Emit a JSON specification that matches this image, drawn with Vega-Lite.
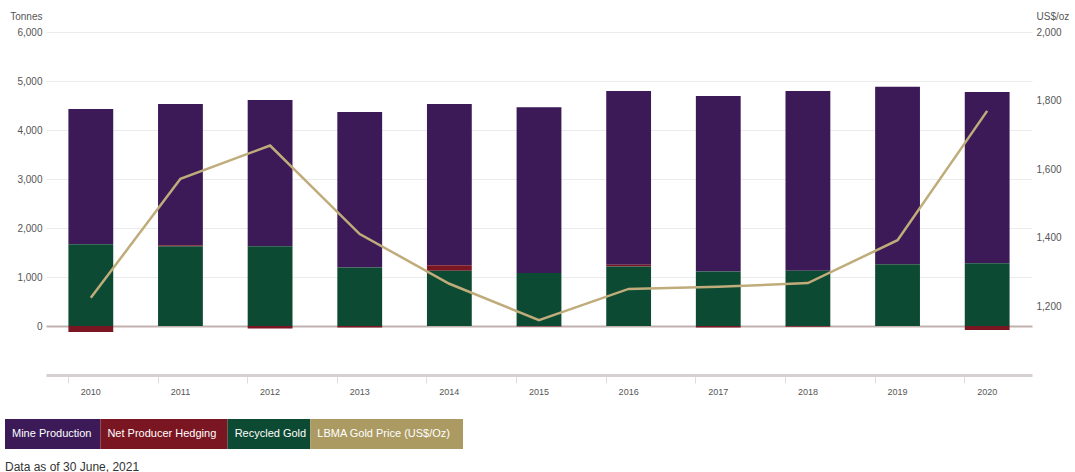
{
  "$schema": "https://vega.github.io/schema/vega-lite/v6.json",
  "padding": {"left": 5, "top": 11, "right": 0, "bottom": 0},
  "background": "white",
  "config": {"font": "Liberation Sans", "view": {"stroke": null}},
  "resolve": {"scale": {"color": "independent"}},
  "datasets": {
    "supply": [
      {"year": "2010", "series": "Mine Production", "tonnes": 2760},
      {"year": "2010", "series": "Net Producer Hedging", "tonnes": -120},
      {"year": "2010", "series": "Recycled Gold", "tonnes": 1670},
      {"year": "2011", "series": "Mine Production", "tonnes": 2880},
      {"year": "2011", "series": "Net Producer Hedging", "tonnes": 20},
      {"year": "2011", "series": "Recycled Gold", "tonnes": 1630},
      {"year": "2012", "series": "Mine Production", "tonnes": 2980},
      {"year": "2012", "series": "Net Producer Hedging", "tonnes": -50},
      {"year": "2012", "series": "Recycled Gold", "tonnes": 1630},
      {"year": "2013", "series": "Mine Production", "tonnes": 3170},
      {"year": "2013", "series": "Net Producer Hedging", "tonnes": -30},
      {"year": "2013", "series": "Recycled Gold", "tonnes": 1195},
      {"year": "2014", "series": "Mine Production", "tonnes": 3290},
      {"year": "2014", "series": "Net Producer Hedging", "tonnes": 110},
      {"year": "2014", "series": "Recycled Gold", "tonnes": 1130},
      {"year": "2015", "series": "Mine Production", "tonnes": 3385},
      {"year": "2015", "series": "Net Producer Hedging", "tonnes": -10},
      {"year": "2015", "series": "Recycled Gold", "tonnes": 1080},
      {"year": "2016", "series": "Mine Production", "tonnes": 3545},
      {"year": "2016", "series": "Net Producer Hedging", "tonnes": 35},
      {"year": "2016", "series": "Recycled Gold", "tonnes": 1215},
      {"year": "2017", "series": "Mine Production", "tonnes": 3585},
      {"year": "2017", "series": "Net Producer Hedging", "tonnes": -30},
      {"year": "2017", "series": "Recycled Gold", "tonnes": 1110},
      {"year": "2018", "series": "Mine Production", "tonnes": 3665},
      {"year": "2018", "series": "Net Producer Hedging", "tonnes": -15},
      {"year": "2018", "series": "Recycled Gold", "tonnes": 1130},
      {"year": "2019", "series": "Mine Production", "tonnes": 3615},
      {"year": "2019", "series": "Net Producer Hedging", "tonnes": 6},
      {"year": "2019", "series": "Recycled Gold", "tonnes": 1260},
      {"year": "2020", "series": "Mine Production", "tonnes": 3495},
      {"year": "2020", "series": "Net Producer Hedging", "tonnes": -80},
      {"year": "2020", "series": "Recycled Gold", "tonnes": 1280}
    ],
    "price": [
      {"year": "2010", "price": 1225},
      {"year": "2011", "price": 1572},
      {"year": "2012", "price": 1669},
      {"year": "2013", "price": 1411},
      {"year": "2014", "price": 1266},
      {"year": "2015", "price": 1160},
      {"year": "2016", "price": 1251},
      {"year": "2017", "price": 1257},
      {"year": "2018", "price": 1268},
      {"year": "2019", "price": 1393},
      {"year": "2020", "price": 1770}
    ],
    "legend": [
      {"item": "Mine Production"},
      {"item": "Net Producer Hedging"},
      {"item": "Recycled Gold"},
      {"item": "LBMA Gold Price (US$/Oz)"}
    ]
  },
  "spacing": 23,
  "vconcat": [
    {
      "width": 986,
      "height": 343,
      "encoding": {
        "x": {
          "field": "year",
          "type": "ordinal",
          "scale": {"paddingInner": 0.5, "paddingOuter": 0.25},
          "axis": {
            "title": null,
            "labelAngle": 0,
            "labelFontSize": 9,
            "labelColor": "#555555",
            "labelPadding": 4,
            "bandPosition": 0,
            "tickSize": 8,
            "tickColor": "#dddddd",
            "domainColor": "#d6cfcf",
            "domainWidth": 3,
            "grid": false
          }
        }
      },
      "layer": [
        {
          "data": {"name": "supply"},
          "mark": {"type": "bar"},
          "encoding": {
            "y": {
              "field": "tonnes",
              "type": "quantitative",
              "stack": "zero",
              "scale": {"domain": [-1000, 6000], "nice": false, "zero": false},
              "axis": {
                "title": "Tonnes",
                "titleAngle": 0,
                "titleAlign": "right",
                "titleBaseline": "middle",
                "titleX": -4,
                "titleY": -16,
                "titleFontSize": 10,
                "titleFontWeight": "normal",
                "titleColor": "#555555",
                "values": [0, 1000, 2000, 3000, 4000, 5000, 6000],
                "format": ",.0f",
                "labelFontSize": 10,
                "labelColor": "#555555",
                "labelPadding": 4,
                "ticks": false,
                "domain": false,
                "grid": true,
                "gridColor": {"condition": {"test": "datum.value === 0", "value": "#c2b0b0"}, "value": "#ebebeb"},
                "gridWidth": {"condition": {"test": "datum.value === 0", "value": 2}, "value": 1}
              }
            },
            "color": {
              "field": "series",
              "type": "nominal",
              "scale": {
                "domain": ["Mine Production", "Net Producer Hedging", "Recycled Gold"],
                "range": ["#3b1a57", "#7a1522", "#0d4a33"]
              },
              "legend": null
            },
            "order": {"field": "series", "sort": "descending"}
          }
        },
        {
          "data": {"name": "price"},
          "mark": {"type": "line", "color": "#bfac7a", "strokeWidth": 2.5},
          "encoding": {
            "y": {
              "field": "price",
              "type": "quantitative",
              "scale": {"domain": [1000, 2000], "nice": false, "zero": false},
              "axis": {
                "orient": "right",
                "title": "US$/oz",
                "titleAngle": 0,
                "titleAlign": "left",
                "titleBaseline": "middle",
                "titleX": 4,
                "titleY": -16,
                "titleFontSize": 10,
                "titleFontWeight": "normal",
                "titleColor": "#555555",
                "values": [1200, 1400, 1600, 1800, 2000],
                "format": ",.0f",
                "labelFontSize": 10,
                "labelColor": "#555555",
                "labelPadding": 4,
                "ticks": false,
                "domain": false,
                "grid": false
              }
            }
          }
        }
      ],
      "resolve": {"scale": {"y": "independent"}}
    },
    {
      "width": 417,
      "height": 30,
      "data": {"name": "legend"},
      "title": {
        "text": "Data as of 30 June, 2021",
        "orient": "bottom",
        "anchor": "start",
        "offset": 13,
        "fontSize": 12,
        "fontWeight": "normal",
        "color": "#333333"
      },
      "transform": [
        {"calculate": "length(datum.item)", "as": "w"},
        {"window": [{"op": "sum", "field": "w", "as": "x1"}], "frame": [null, 0]},
        {"calculate": "datum.x1 - datum.w", "as": "x0"}
      ],
      "encoding": {
        "x": {
          "field": "x0",
          "type": "quantitative",
          "scale": {"domain": [6.445, 72], "nice": false, "zero": false},
          "axis": null
        }
      },
      "layer": [
        {
          "mark": {"type": "bar", "clip": false, "height": {"band": 1}},
          "encoding": {
            "x2": {"field": "x1"},
            "color": {
              "field": "item",
              "type": "nominal",
              "scale": {
                "domain": ["Mine Production", "Net Producer Hedging", "Recycled Gold", "LBMA Gold Price (US$/Oz)"],
                "range": ["#3b1a57", "#7a1522", "#0d4a33", "#ab9a62"]
              },
              "legend": null
            }
          }
        },
        {
          "mark": {"type": "text", "align": "left", "baseline": "middle", "dx": 7, "fontSize": 11, "color": "white", "clip": false},
          "encoding": {
            "text": {"field": "item"}
          }
        }
      ]
    }
  ]
}
